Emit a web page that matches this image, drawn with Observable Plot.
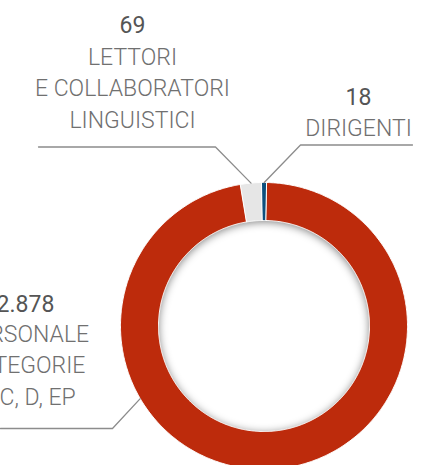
<!DOCTYPE html>
<html><head><meta charset="utf-8">
<script src="https://cdn.jsdelivr.net/npm/d3@7"></script>
<script src="https://cdn.jsdelivr.net/npm/@observablehq/plot@0.6"></script>
<style>
html,body{margin:0;padding:0;background:#fff;overflow:hidden}
#chart svg{display:block}
.ringshadow{filter:url(#ringblur)}
</style></head><body><div id="chart"></div>
<script>
// ---- data ----
const categories = ["DIRIGENTI", "PERSONALE CATEGORIE B, C, D, EP", "LETTORI E COLLABORATORI LINGUISTICI"];
const values = [18, 2878, 69];
const labelLines = [["DIRIGENTI"], ["PERSONALE", "CATEGORIE", "B, C, D, EP"], ["LETTORI", "E COLLABORATORI", "LINGUISTICI"]];
const colors = ["#0c4f7d", "#bd2b0c", "#e6e6e6"];

// ---- layout ----
const W = 430, H = 465, CX = 263.5, CY = 325.5, R = 143.5, R0 = 105.5;
const deg = Math.PI / 180;
const START = -1 * deg;
const labelLayout = [
  {x: 358, numY: 104, textY: 135, elbow: [300, 144.5], end: [412, 144.5], angle: null},
  {x: 25, numY: 311, textY: 404, elbow: [112, 428], end: [0, 428], angle: 239.6 * deg},
  {x: 132, numY: 32, textY: 127, elbow: [215, 146.5], end: [38, 146.5], angle: null}
];

const itFormat = d3.formatLocale({decimal: ",", thousands: ".", grouping: [3], currency: ["€", ""]}).format(",");

const arcs = d3.pie().sort(null).value(d => d).startAngle(START).endAngle(START + 2 * Math.PI)(values);

function ring(a0, a1, r1, r0, key) {
  const n = Math.max(2, Math.ceil((a1 - a0) / deg * 2));
  const pts = [];
  for (let i = 0; i <= n; i++) { const a = a0 + (a1 - a0) * i / n; pts.push({x: CX + r1 * Math.sin(a), y: CY - r1 * Math.cos(a), key}); }
  for (let i = n; i >= 0; i--) { const a = a0 + (a1 - a0) * i / n; pts.push({x: CX + r0 * Math.sin(a), y: CY - r0 * Math.cos(a), key}); }
  return pts;
}

const slicePts = arcs.flatMap((a, i) => ring(a.startAngle, a.endAngle, R, R0, categories[i]));
const shadowPts = ring(START, START + 2 * Math.PI, R0 + 12, R0, "shadow");

const leaderPts = arcs.flatMap((a, i) => {
  const L = labelLayout[i];
  const ang = L.angle ?? (a.startAngle + a.endAngle) / 2;
  return [
    {x: CX + R * Math.sin(ang), y: CY - R * Math.cos(ang), key: categories[i]},
    {x: L.elbow[0], y: L.elbow[1], key: categories[i]},
    {x: L.end[0], y: L.end[1], key: categories[i]}
  ];
});

const labels = categories.map((c, i) => ({
  key: c,
  x: labelLayout[i].x,
  numY: labelLayout[i].numY,
  textY: labelLayout[i].textY,
  num: itFormat(values[i]),
  text: labelLines[i].join("\n")
}));

const chart = Plot.plot({
  width: W, height: H, margin: 0,
  style: {fontFamily: "Roboto, sans-serif", background: "#fff"},
  x: {domain: [0, W], range: [0, W], axis: null},
  y: {domain: [0, H], range: [0, H], axis: null},
  color: {domain: categories, range: colors},
  marks: [
    Plot.line(shadowPts, {x: "x", y: "y", z: "key", fill: "#000", fillOpacity: 0.5, stroke: "none", curve: "linear-closed", dy: 1.5, className: "ringshadow"}),
    Plot.line(slicePts, {x: "x", y: "y", z: "key", fill: "key", stroke: "#fff", strokeWidth: 1, curve: "linear-closed"}),
    Plot.line(leaderPts, {x: "x", y: "y", z: "key", stroke: "#8c8c8c", strokeWidth: 1.3}),
    Plot.text(labels, {x: "x", y: "numY", text: "num", fontSize: 23, fontWeight: 400, fill: "#555", textAnchor: "middle", lineAnchor: "bottom"}),
    Plot.text(labels, {x: "x", y: "textY", text: "text", fontSize: 23, fontWeight: 300, fill: "#707070", textAnchor: "middle", lineAnchor: "bottom", lineHeight: 1.35})
  ]
});
d3.select(chart).insert("defs", ":first-child").html('<filter id="ringblur" x="-20%" y="-20%" width="140%" height="140%"><feGaussianBlur stdDeviation="4"/></filter>');
document.getElementById("chart").appendChild(chart);
</script></body></html>
